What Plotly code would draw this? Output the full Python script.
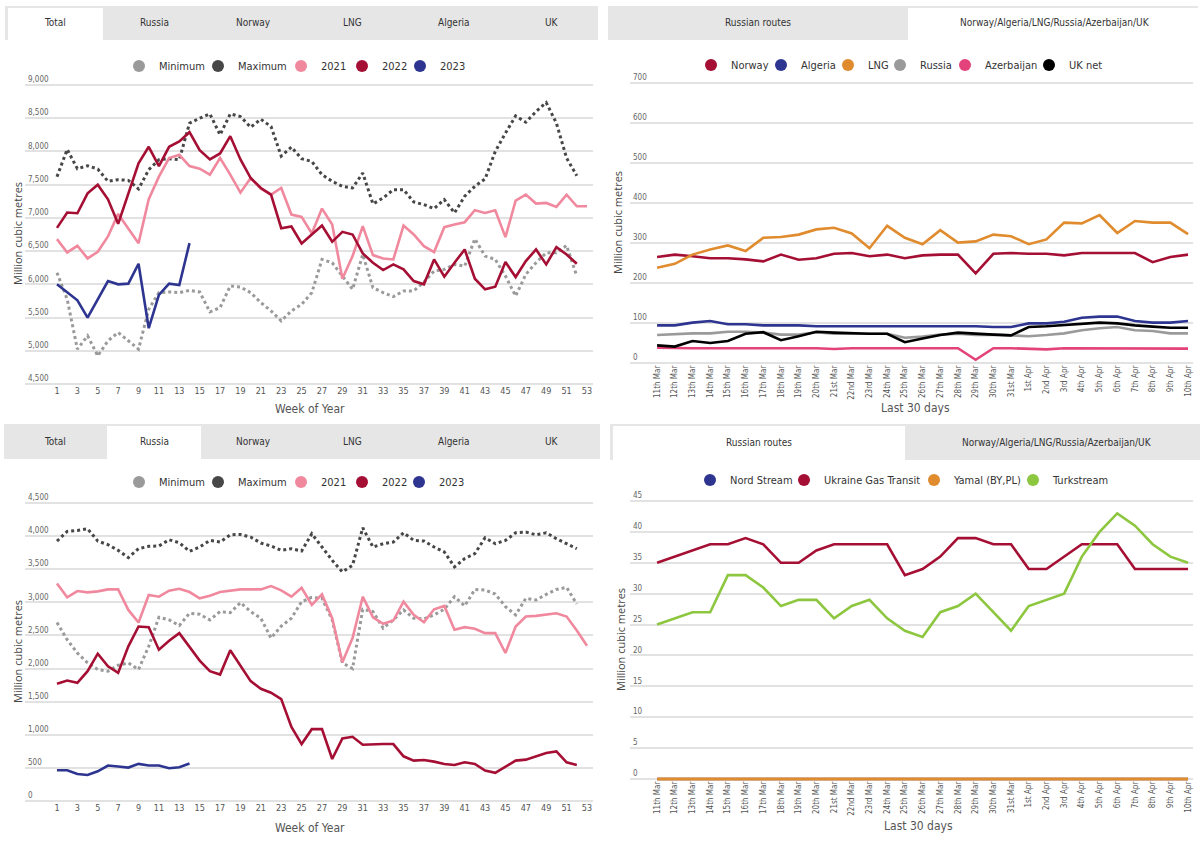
import plotly.graph_objects as go

W, H = 1200, 842
def fx(p): return p / W
def fy(p): return 1 - p / H

FONT_C = "Liberation Sans Narrow, DejaVu Sans Condensed, Roboto, sans-serif"
FONT_R = "Open Sans, Noto Sans, sans-serif"

# ---------------- data ----------------
weeks = list(range(1, 54))
week_ticks = list(range(1, 54, 2))

tot_min = [6175, 5775, 5025, 5225, 4925, 5150, 5275, 5150, 5025, 5625,
           5875, 5885, 5875, 5910, 5885, 5585, 5650, 5975, 5960, 5875,
           5725, 5600, 5450, 5600, 5700, 5875, 6375, 6325, 6125, 5925,
           6450, 5950, 5875, 5815, 5900, 5900, 6035, 6200, 6225, 6300,
           6275, 6685, 6425, 6375, 6125, 5825, 6150, 6325, 6475, 6475,
           6585, 6125]
tot_max = [7620, 8030, 7740, 7785, 7735, 7550, 7575, 7565, 7435, 7725,
           7875, 7890, 7875, 8425, 8500, 8565, 8250, 8565, 8525, 8365,
           8485, 8375, 7930, 8065, 7890, 7850, 7650, 7550, 7475, 7450,
           7675, 7210, 7300, 7425, 7425, 7240, 7200, 7140, 7275, 7075,
           7325, 7475, 7585, 8000, 8275, 8535, 8440, 8600, 8735, 8425,
           7900, 7635]
tot_2021 = [6680, 6480, 6580, 6390, 6490, 6720, 7060, 6840, 6620, 7280,
            7620, 7900, 7950, 7780, 7740, 7650, 7900, 7650, 7380, 7600,
            7440, 7350, 7450, 7050, 7015, 6765, 7140, 6900, 6085, 6425,
            6875, 6440, 6390, 6375, 6885, 6750, 6575, 6485, 6860, 6900,
            6935, 7115, 7075, 7115, 6710, 7260, 7350, 7215, 7225, 7165,
            7350, 7175, 7175]
tot_2022 = [6850, 7080, 7070, 7370, 7500, 7280, 6910, 7380, 7820, 8070,
            7780, 8070, 8150, 8290, 8020, 7880, 7970, 8230, 7880, 7600,
            7450, 7350, 6845, 6870, 6615, 6750, 6885, 6640, 6790, 6750,
            6465, 6325, 6215, 6300, 6225, 6050, 6000, 6375, 6115, 6325,
            6525, 6085, 5925, 5965, 6335, 6110, 6350, 6525, 6300, 6560,
            6450, 6310]
tot_2023 = [6000, 5880, 5760, 5500, 5780, 6050, 6000, 6010, 6310, 5340,
            5840, 6010, 5990, 6620]

rus_min = [2695, 2435, 2235, 2085, 1985, 1960, 2050, 2085, 1985, 2335,
           2775, 2735, 2650, 2835, 2820, 2735, 2860, 2845, 2995, 2860,
           2760, 2460, 2640, 2760, 3010, 3075, 3060, 2735, 2085, 2000,
           2895, 2860, 2610, 2735, 2885, 2760, 2750, 2810, 2895, 3085,
           2945, 3195, 3185, 3125, 2935, 2810, 3060, 3035, 3120, 3195,
           3225, 2975]
rus_max = [3925, 4070, 4085, 4110, 3925, 3870, 3785, 3675, 3810, 3845,
           3850, 3945, 3900, 3770, 3835, 3935, 3910, 4020, 4025, 3985,
           3895, 3850, 3785, 3810, 3775, 4035, 3835, 3635, 3460, 3560,
           4125, 3835, 3885, 3910, 4050, 3935, 3925, 3835, 3760, 3535,
           3660, 3735, 3975, 3885, 3935, 4050, 4060, 4020, 4050, 3960,
           3885, 3810]
rus_2021 = [3285, 3075, 3170, 3150, 3165, 3195, 3195, 2885, 2695, 3110,
            3085, 3175, 3205, 3155, 3060, 3100, 3155, 3180, 3195, 3195,
            3195, 3245, 3180, 3085, 3220, 2960, 3120, 2760, 2095, 2460,
            3085, 2775, 2675, 2725, 3010, 2810, 2700, 2895, 2945, 2585,
            2625, 2600, 2535, 2535, 2235, 2635, 2785, 2795, 2810, 2835,
            2785, 2575, 2345]
rus_2022 = [1770, 1820, 1785, 1960, 2225, 2035, 1935, 2335, 2635, 2625,
            2285, 2420, 2535, 2335, 2120, 1960, 1910, 2275, 2035, 1810,
            1695, 1635, 1540, 1120, 860, 1085, 1085, 635, 945, 970,
            850, 860, 860, 860, 675, 610, 620, 595, 560, 545,
            585, 560, 460, 425, 520, 610, 625, 675, 725, 750,
            585, 545]
rus_2023 = [464, 464, 408, 393, 449, 536, 520, 505, 561, 536,
            536, 495, 510, 566]

days = ["11th Mar", "12th Mar", "13th Mar", "14th Mar", "15th Mar", "16th Mar",
        "17th Mar", "18th Mar", "19th Mar", "20th Mar", "21st Mar", "22nd Mar",
        "23rd Mar", "24th Mar", "25th Mar", "26th Mar", "27th Mar", "28th Mar",
        "29th Mar", "30th Mar", "31st Mar", "1st Apr", "2nd Apr", "3rd Apr",
        "4th Apr", "5th Apr", "6th Apr", "7th Apr", "8th Apr", "9th Apr", "10th Apr"]

d_norway = [265, 271, 267, 262, 262, 259, 254, 271, 258, 262,
            273, 275, 267, 271, 262, 269, 271, 271, 224, 273,
            275, 273, 273, 269, 275, 275, 275, 275, 252, 265, 271]
d_algeria = [94, 94, 101, 105, 97, 97, 94, 94, 94, 92,
             92, 92, 92, 92, 92, 92, 92, 92, 92, 90,
             90, 99, 99, 103, 113, 116, 116, 105, 101, 101, 105]
d_lng = [238, 248, 271, 284, 294, 280, 313, 315, 321, 334,
         338, 324, 287, 343, 313, 297, 332, 301, 304, 321,
         317, 297, 309, 351, 349, 370, 325, 355, 351, 351, 322]
d_russia = [70, 72, 74, 74, 78, 78, 76, 71, 71, 77,
            73, 73, 73, 73, 63, 66, 71, 73, 70, 71,
            69, 67, 70, 74, 82, 87, 90, 82, 80, 74, 74]
d_azer = [38, 37, 37, 37, 37, 37, 37, 37, 37, 37,
          35, 37, 37, 37, 36, 36, 36, 37, 8, 37,
          37, 35, 34, 37, 37, 37, 37, 36, 36, 36, 36]
d_uknet = [44, 41, 55, 50, 55, 73, 77, 57, 67, 78,
           76, 74, 73, 73, 52, 61, 70, 76, 73, 71,
           69, 90, 92, 95, 97, 101, 99, 94, 91, 88, 88]

r_nord = [0, 0, 0, 0, 0, 0, 0, 0, 0, 0, 0, 0, 0, 0, 0, 0,
          0, 0, 0, 0, 0, 0, 0, 0, 0, 0, 0, 0, 0, 0, 0]
r_ukraine = [35, 36, 37, 38, 38, 39, 38, 35, 35, 37,
             38, 38, 38, 38, 33, 34, 36, 39, 39, 38,
             38, 34, 34, 36, 38, 38, 38, 34, 34, 34, 34]
r_yamal = [0, 0, 0, 0, 0, 0, 0, 0, 0, 0, 0, 0, 0, 0, 0, 0,
           0, 0, 0, 0, 0, 0, 0, 0, 0, 0, 0, 0, 0, 0, 0]
r_turk = [25, 26, 27, 27, 33, 33, 31, 28, 29, 29,
          26, 28, 29, 26, 24, 23, 27, 28, 30, 27,
          24, 28, 29, 30, 36, 40, 43, 41, 38, 36, 35]

tabs_left = ["Total", "Russia", "Norway", "LNG", "Algeria", "UK"]
tabs_right = ["Russian routes", "Norway/Algeria/LNG/Russia/Azerbaijan/UK"]

year_names = ["Minimum", "Maximum", "2021", "2022", "2023"]
flow_names = ["Norway", "Algeria", "LNG", "Russia", "Azerbaijan", "UK net"]
route_names = ["Nord Stream", "Ukraine Gas Transit", "Yamal (BY,PL)", "Turkstream"]

C_MIN, C_MAX = "#9a9a9a", "#474747"
C_21, C_22, C_23 = "#f0899e", "#a50f34", "#2e3590"
C_LNG, C_AZ, C_GREEN = "#e08c2e", "#e3437a", "#8dc63f"
year_colors = [C_MIN, C_MAX, C_21, C_22, C_23]
flow_colors = [C_22, C_23, C_LNG, C_MIN, C_AZ, "#000000"]
route_colors = [C_23, C_22, C_LNG, C_GREEN]

fig = go.Figure()

def line(x, y, color, xa, ya, dash="solid", width=2.6):
    fig.add_trace(go.Scatter(x=x, y=y, mode="lines", xaxis=xa, yaxis=ya,
                             line=dict(color=color, width=width, dash=dash),
                             showlegend=False, hoverinfo="skip"))

# Top-left: Total
line(weeks[:52], tot_min, C_MIN, "x", "y", "dot", 3)
line(weeks[:52], tot_max, C_MAX, "x", "y", "dot", 3)
line(weeks, tot_2021, C_21, "x", "y")
line(weeks[:52], tot_2022, C_22, "x", "y")
line(weeks[:14], tot_2023, C_23, "x", "y")

# Top-right: daily flows
for ys, c in zip([d_norway, d_algeria, d_lng, d_russia, d_azer, d_uknet], flow_colors):
    line(days, ys, c, "x2", "y2")

# Bottom-left: Russia
line(weeks[:52], rus_min, C_MIN, "x3", "y3", "dot", 3)
line(weeks[:52], rus_max, C_MAX, "x3", "y3", "dot", 3)
line(weeks, rus_2021, C_21, "x3", "y3")
line(weeks[:52], rus_2022, C_22, "x3", "y3")
line(weeks[:14], rus_2023, C_23, "x3", "y3")

# Bottom-right: Russian routes
line(days, r_nord, C_23, "x4", "y4")
line(days, r_ukraine, C_22, "x4", "y4")
line(days, r_yamal, C_LNG, "x4", "y4", width=3.2)
line(days, r_turk, C_GREEN, "x4", "y4")

# ---------------- legends (one legend per entry, so entries sit like the original) ----------------
legend_layout = {}
leg_id = [0]

def legend_group(names, colors, centers, y, xa, ya, fsize):
    for n, c, cx in zip(names, colors, centers):
        leg_id[0] += 1
        key = "legend" if leg_id[0] == 1 else "legend%d" % leg_id[0]
        fig.add_trace(go.Scatter(x=[None], y=[None], mode="markers", name=n,
                                 xaxis=xa, yaxis=ya, legend=key, hoverinfo="skip",
                                 marker=dict(color=c, size=14, symbol="circle")))
        legend_layout[key] = dict(x=fx(cx - 20), y=fy(y), xanchor="left", yanchor="middle",
                                  orientation="h", bgcolor="rgba(0,0,0,0)", borderwidth=0,
                                  itemsizing="constant", itemclick=False, itemdoubleclick=False,
                                  font=dict(family=FONT_C, size=fsize, color="#333"))

legend_group(year_names, year_colors, [139, 218, 301, 362, 420], 66, "x", "y", 11)
legend_group(flow_names, flow_colors, [711, 781, 848, 900, 965, 1049], 65, "x2", "y2", 11)
legend_group(year_names, year_colors, [139, 218, 301, 362, 419], 482, "x3", "y3", 11)
legend_group(route_names, route_colors, [710, 804, 934, 1033], 480, "x4", "y4", 11)
fig.update_layout(**legend_layout)

# ---------------- axes ----------------
def xweek(domain, ypos):
    return dict(domain=domain, anchor="free", position=ypos, range=[-2.14, 53.59],
                tickvals=week_ticks, showgrid=False, zeroline=False, showline=False, ticks="",
                automargin=False, tickfont=dict(family=FONT_C, size=9, color="#555"))

def xday(domain, ypos):
    return dict(domain=domain, anchor="free", position=ypos, type="category",
                range=[-1.53, 30.28], showgrid=False, zeroline=False, showline=False,
                ticks="", tickangle=-90, automargin=False,
                tickfont=dict(family=FONT_C, size=8, color="#555"))

def yax(domain, anchor, rng, dtick):
    return dict(domain=domain, anchor=anchor, range=rng, dtick=dtick, tickformat=",d",
                showgrid=True, gridcolor="#e2e2e2", gridwidth=1.5, zeroline=False,
                showline=False, ticks="", ticklabelposition="inside top",
                ticklabeloverflow="allow", automargin=False,
                tickfont=dict(family=FONT_C, size=8, color="#666"))

fig.update_layout(
    xaxis=xweek([fx(25), fx(593)], fy(384)),
    yaxis=yax([fy(388), fy(81)], "x", [4440, 9060], 500),
    xaxis2=xday([fx(630), fx(1193)], fy(363)),
    yaxis2=yax([fy(367), fy(79)], "x2", [-10, 710], 100),
    xaxis3=xweek([fx(25), fx(593)], fy(801)),
    yaxis3=yax([fy(805), fy(499)], "x3", [-60, 4560], 500),
    xaxis4=xday([fx(630), fx(1193)], fy(779)),
    yaxis4=yax([fy(783), fy(497)], "x4", [-0.65, 45.65], 5),
)

# ---------------- tabs and titles ----------------
shapes = []
annotations = []

def rect(x0, y0, x1, y1, color):
    shapes.append(dict(type="rect", xref="paper", yref="paper", x0=fx(x0), x1=fx(x1),
                       y0=fy(y1), y1=fy(y0), fillcolor=color, line=dict(width=0), layer="below"))

def text(x, y, s, size=10, color="#333", family=FONT_C, angle=0):
    annotations.append(dict(xref="paper", yref="paper", x=fx(x), y=fy(y), text=s,
                            showarrow=False, xanchor="center", yanchor="middle",
                            textangle=angle, font=dict(family=family, size=size, color=color)))

left_tab_x = [55, 154, 253, 352, 454, 552]

rect(5, 6, 598, 40, "#e6e6e6")
rect(8, 8, 103, 40, "#ffffff")
for t, cx in zip(tabs_left, left_tab_x):
    text(cx, 23, t)
rect(4, 424, 600, 459, "#e6e6e6")
rect(107, 426, 201, 459, "#ffffff")
for t, cx in zip(tabs_left, left_tab_x):
    text(cx, 441, t)
rect(608, 6, 1198, 40, "#e6e6e6")
rect(908, 8, 1198, 40, "#ffffff")
text(758, 23, tabs_right[0])
text(1055, 23, tabs_right[1])
rect(610, 424, 1200, 460, "#e6e6e6")
rect(613, 426, 905, 460, "#ffffff")
text(759, 442, tabs_right[0])
text(1057, 442, tabs_right[1])

text(17, 234, "Million cubic metres", 11, "#444", FONT_R, -90)
text(617, 223, "Million cubic metres", 11, "#444", FONT_R, -90)
text(17, 652, "Million cubic metres", 11, "#444", FONT_R, -90)
text(620, 640, "Million cubic metres", 11, "#444", FONT_R, -90)
text(310, 409, "Week of Year", 12, "#555")
text(310, 828, "Week of Year", 12, "#555")
text(915, 408, "Last 30 days", 12, "#555")
text(918, 826, "Last 30 days", 12, "#555")

fig.update_layout(shapes=shapes, annotations=annotations,
                  width=W, height=H,
                  margin=dict(l=0, r=0, t=0, b=0, pad=0, autoexpand=False),
                  paper_bgcolor="#ffffff", plot_bgcolor="#ffffff",
                  font=dict(family=FONT_C, color="#333"))

fig.write_html("out.html", config={"displayModeBar": False},
               post_script="document.body.style.margin='0px';")
